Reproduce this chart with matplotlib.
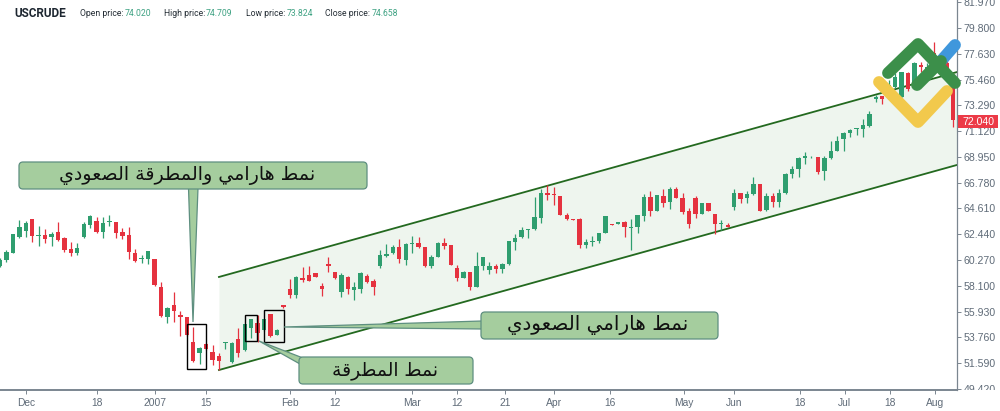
import matplotlib
matplotlib.use("Agg")
import matplotlib.pyplot as plt
from matplotlib.patches import FancyBboxPatch, Polygon, Rectangle
from matplotlib.transforms import Bbox

# candles
opens = [59.76, 60.27, 60.89, 62.18, 62.74, 63.72, 62.32, 62.36, 62.23, 62.66,
         62.12, 61.20, 60.89, 62.18, 63.22, 63.55, 62.63, 63.44, 63.47, 62.60,
         62.35, 60.86, 60.32, 60.32, 60.35, 58.02, 55.49, 56.50, 55.63, 55.44,
         53.33, 52.46, 53.16, 52.49, 52.21, 53.27, 51.70, 53.58, 52.68, 54.57,
         54.93, 54.37, 55.69, 53.95, 56.45, 57.82, 57.32, 58.72, 58.98, 59.20,
         58.08, 59.90, 59.23, 57.60, 58.80, 57.74, 57.85, 58.92, 58.50, 59.73,
         60.63, 60.88, 61.36, 60.27, 61.61, 61.70, 61.39, 59.76, 60.55, 61.70,
         61.53, 59.62, 58.78, 59.23, 58.02, 59.79, 59.42, 59.79, 59.51, 59.90,
         61.81, 62.18, 62.79, 62.85, 63.78, 65.91, 65.86, 65.66, 64.09, 63.72,
         63.72, 61.56, 61.78, 61.87, 62.54, 63.30, 63.33, 63.50, 62.93, 63.02,
         63.97, 65.55, 64.42, 65.69, 65.13, 66.22, 65.47, 64.43, 65.52, 64.14,
         65.07, 64.12, 63.30, 63.19, 64.76, 65.94, 65.47, 65.80, 66.64, 64.48,
         65.66, 65.16, 65.89, 67.52, 67.97, 68.86, 68.92, 68.95, 67.80, 68.84,
         69.48, 70.49, 71.00, 71.28, 71.28, 71.59, 73.81, 74.06, 74.17, 74.87,
         74.03, 76.05, 74.87, 76.70, 75.72, 77.74, 76.56, 76.84, 75.72]
highs = [60.40, 61.11, 62.43, 63.64, 63.58, 63.72, 63.13, 62.85, 62.66, 63.50,
         62.18, 61.81, 61.73, 63.50, 64.03, 63.92, 63.86, 64.03, 63.50, 62.94,
         63.08, 61.17, 60.69, 61.06, 60.35, 58.44, 56.28, 57.54, 56.00, 55.49,
         54.65, 52.97, 53.25, 53.10, 52.40, 53.33, 53.33, 54.51, 54.88, 55.30,
         55.63, 55.27, 55.72, 54.43, 56.45, 58.64, 58.92, 59.71, 59.79, 59.20,
         58.30, 60.55, 59.28, 59.14, 58.92, 58.44, 59.23, 59.06, 58.67, 61.11,
         61.61, 61.53, 62.01, 61.73, 62.32, 62.23, 61.39, 60.66, 61.81, 62.09,
         61.53, 59.84, 59.34, 59.28, 60.91, 60.55, 60.13, 59.93, 59.98, 61.87,
         62.43, 63.07, 62.85, 65.55, 66.22, 66.59, 66.45, 65.66, 64.25, 63.75,
         63.78, 62.01, 62.29, 62.57, 63.95, 63.33, 63.47, 63.55, 63.72, 64.06,
         65.80, 66.11, 65.71, 66.22, 66.45, 66.45, 65.94, 64.62, 65.69, 65.10,
         65.10, 64.12, 63.64, 63.36, 66.25, 65.94, 66.11, 67.23, 66.64, 65.89,
         65.94, 66.25, 67.57, 68.19, 68.98, 69.40, 69.00, 68.98, 69.03, 70.32,
         70.75, 71.03, 71.28, 71.36, 72.12, 72.82, 74.17, 74.12, 75.44, 76.00,
         76.14, 76.14, 76.98, 76.98, 76.84, 78.67, 77.68, 77.12, 76.00]
lows = [59.65, 60.13, 60.89, 62.15, 62.23, 61.81, 61.48, 61.73, 61.45, 61.87,
        60.97, 60.63, 60.69, 62.15, 62.99, 62.57, 62.15, 63.16, 62.15, 62.04,
        60.38, 60.13, 59.99, 59.93, 58.08, 55.49, 54.99, 55.07, 53.86, 53.86,
        51.70, 51.50, 52.68, 51.42, 51.00, 52.74, 51.62, 52.12, 52.63, 53.67,
        53.39, 54.31, 53.81, 53.92, 56.25, 57.04, 57.04, 58.44, 58.50, 58.84,
        57.26, 59.29, 58.69, 57.18, 57.40, 56.89, 57.46, 58.30, 57.32, 59.62,
        60.49, 60.74, 59.98, 59.84, 60.83, 61.25, 59.70, 59.56, 60.49, 61.16,
        59.82, 58.52, 58.72, 57.74, 57.99, 59.42, 59.09, 59.14, 59.20, 59.84,
        61.11, 62.09, 62.09, 62.79, 63.41, 65.32, 64.90, 64.03, 63.64, 63.64,
        61.31, 61.25, 61.45, 61.73, 62.51, 63.22, 63.30, 62.23, 61.11, 62.51,
        63.58, 64.00, 64.39, 64.71, 64.54, 65.47, 64.12, 62.94, 63.78, 64.12,
        64.40, 62.46, 62.80, 63.02, 64.48, 65.10, 65.10, 65.75, 64.40, 64.43,
        64.71, 64.76, 65.86, 67.15, 67.29, 68.33, 68.89, 67.52, 67.01, 68.78,
        69.45, 69.48, 70.61, 70.80, 70.66, 71.50, 73.55, 73.41, 74.03, 74.73,
        74.00, 74.54, 74.73, 76.14, 75.58, 77.12, 76.42, 76.00, 71.50]
closes = [60.27, 60.94, 62.43, 63.02, 63.36, 62.29, 62.36, 62.04, 62.43, 61.93,
          61.11, 60.89, 61.25, 63.27, 63.98, 62.66, 63.36, 63.58, 62.57, 62.29,
          60.97, 60.21, 60.41, 61.03, 58.16, 55.55, 56.20, 56.00, 55.49, 53.95,
          51.79, 52.88, 52.74, 51.84, 51.76, 53.33, 53.30, 52.46, 54.85, 55.27,
          54.14, 55.27, 53.89, 54.37, 56.28, 57.32, 58.86, 58.58, 58.53, 58.86,
          57.80, 59.79, 58.72, 58.97, 57.85, 57.96, 59.14, 58.41, 58.02, 60.66,
          60.77, 61.36, 60.32, 61.61, 61.73, 61.36, 59.73, 60.55, 61.73, 61.45,
          59.84, 58.72, 59.23, 57.96, 59.79, 60.49, 59.76, 59.51, 59.90, 61.84,
          62.09, 62.79, 62.85, 63.86, 65.88, 65.72, 65.74, 64.06, 63.69, 63.66,
          61.50, 61.78, 61.90, 62.51, 63.95, 63.24, 63.47, 63.02, 63.02, 64.03,
          65.60, 64.42, 65.71, 65.10, 66.22, 65.52, 64.34, 63.30, 64.12, 65.04,
          64.43, 63.30, 63.36, 63.08, 65.89, 65.44, 65.83, 66.67, 64.43, 65.66,
          65.16, 65.94, 67.52, 67.94, 68.84, 69.03, 68.98, 67.66, 68.84, 69.48,
          70.30, 70.94, 71.20, 71.36, 71.64, 72.54, 74.03, 73.86, 75.02, 75.72,
          76.08, 74.65, 76.84, 76.50, 76.56, 77.26, 77.40, 76.28, 72.04]

# tick values
x_tick_pos = [4, 15, 24, 32, 45, 52, 64, 71, 78.4, 86, 94.7, 106.2, 114, 124.2, 131.2, 138.2, 145.2]
x_tick_labels = ["Dec", "18", "2007", "15", "Feb", "12", "Mar", "12", "21", "Apr", "16",
                 "May", "Jun", "18", "Jul", "18", "Aug"]
y_ticks = [49.42, 51.59, 53.76, 55.93, 58.10, 60.27, 62.44, 64.61, 66.78, 68.95,
           71.12, 73.29, 75.46, 77.63, 79.80, 81.97]
last_price = 72.04

# channel, (candle index, price)
channel_x = [34, 148.6]
channel_top = [58.84, 76.11]
channel_bottom = [51.00, 68.28]

header = [("Open price:", "74.020", 80, 125), ("High price:", "74.709", 163.5, 206),
          ("Low price:", "73.824", 245.5, 286.7), ("Close price:", "74.658", 325, 371.7)]

GREEN = "#2f9e6f"
RED = "#e5323f"
BOX = "#a5cd9e"
BOX_EDGE = "#5e8f80"
LABEL = "#5f6b78"

# matplotlib does not join arabic letters, so pick the presentation forms here
# order in each entry: isolated, final, initial, medial
FORMS = {"ن": "\ufee5\ufee6\ufee7\ufee8", "م": "\ufee1\ufee2\ufee3\ufee4", "ط": "\ufec1\ufec2\ufec3\ufec4",
         "ه": "\ufee9\ufeea\ufeeb\ufeec", "ي": "\ufef1\ufef2\ufef3\ufef4", "ل": "\ufedd\ufede\ufedf\ufee0",
         "ق": "\ufed5\ufed6\ufed7\ufed8", "ص": "\ufeb9\ufeba\ufebb\ufebc", "ع": "\ufec9\ufeca\ufecb\ufecc",
         "ا": "\ufe8d\ufe8e", "ر": "\ufead\ufeae", "و": "\ufeed\ufeee", "ة": "\ufe93\ufe94", "د": "\ufea9\ufeaa"}


def shape(text):
    out = []
    for k, ch in enumerate(text):
        if ch not in FORMS:
            out.append(ch)
            continue
        prev = text[k - 1] if k > 0 else " "
        nxt = text[k + 1] if k + 1 < len(text) else " "
        joins_prev = prev in FORMS and len(FORMS[prev]) == 4
        joins_next = nxt in FORMS and len(FORMS[ch]) == 4
        out.append(FORMS[ch][(2 if joins_next else 0) + (1 if joins_prev else 0)])
    return "".join(reversed(out))


fig = plt.figure(figsize=(10, 4.11), dpi=100)
ax = fig.add_axes([0, 21 / 411, 0.957, 390 / 411])

# channel behind the candles
ax.fill_between(channel_x, channel_bottom, channel_top, color="#eef5ee", lw=0, zorder=1)
ax.plot(channel_x, channel_top, color="#23691f", lw=1.3, zorder=2)
ax.plot(channel_x, channel_bottom, color="#23691f", lw=1.3, zorder=2)

for i in range(len(opens)):
    col = GREEN if closes[i] >= opens[i] else RED
    ax.vlines(i, lows[i], highs[i], color=col, lw=0.9, zorder=3)
    ax.bar(i, abs(closes[i] - opens[i]), bottom=min(opens[i], closes[i]), width=0.68, color=col, lw=0, zorder=4)

ax.set_xlim(0, 957 / 6.44)
ax.set_ylim(49.315, 82.18)
ax.set_xticks(x_tick_pos)
ax.set_xticklabels(x_tick_labels, fontsize=7.4, color=LABEL, family="Liberation Sans")
ax.yaxis.tick_right()
ax.set_yticks(y_ticks)
ax.set_yticklabels(["%.3f" % v for v in y_ticks], fontsize=7.6, color=LABEL, family="Liberation Sans")
ax.tick_params(axis="x", length=3, width=0.7, color="#7b8690", pad=3)
ax.tick_params(axis="y", length=3, width=0.7, color="#7b8690", pad=2)
# the lowest price label is cut by the time axis
for lab in ax.get_yticklabels():
    lab.set_clip_on(True)
    lab.set_clip_box(Bbox.from_extents(950, 21, 1000, 411))
for s in ["top", "left"]:
    ax.spines[s].set_visible(False)
ax.spines["bottom"].set_color("#7b8690")
ax.spines["bottom"].set_linewidth(1.4)
ax.spines["right"].set_color("#7b8690")
ax.spines["right"].set_linewidth(0.9)

# overlay in pixels for the notes and the logo
ov = fig.add_axes([0, 0, 1, 1], facecolor="none")
ov.set_xlim(0, 1000)
ov.set_ylim(411, 0)
ov.axis("off")

for x0, y0, x1, y1 in [(186.7, 324.3, 206.3, 369.3), (244.7, 315, 257.3, 341), (264, 310.3, 283.7, 342.3)]:
    ov.add_patch(Rectangle((x0, y0), x1 - x0, y1 - y0, fill=False, ec="black", lw=1.0, zorder=5))


def callout(x0, y0, x1, y1, pointer, text, size, text_x):
    ov.add_patch(Polygon(pointer, closed=True, fc=BOX, ec=BOX_EDGE, lw=0.9, zorder=6))
    ov.add_patch(FancyBboxPatch((x0 + 3, y0 + 3), x1 - x0 - 6, y1 - y0 - 6, boxstyle="round,pad=3,rounding_size=4",
                                fc=BOX, ec=BOX_EDGE, lw=0.9, zorder=7))
    ov.text(text_x, (y0 + y1) / 2 - 0.5, shape(text), ha="center", va="center", fontsize=size,
            color="#111111", family="DejaVu Sans", zorder=8)


callout(19, 162, 367, 189, [(188.5, 188), (198, 188), (193, 322)], "نمط هارامي والمطرقة الصعودي", 13.7, 187.5)
callout(481, 312, 718, 339, [(482, 321), (482, 329), (284, 327)], "نمط هارامي الصعودي", 14.3, 598)
callout(299, 357, 473, 384, [(303, 358), (300, 364), (259, 341)], "نمط المطرقة", 13.4, 384.5)

# logo
ov.plot([941, 955], [61, 45], color="#3f97dc", lw=8.5, solid_capstyle="round", zorder=9)
ov.plot([879, 918, 947], [82, 122, 91], color="#f2c94c", lw=8.5, solid_capstyle="round",
        solid_joinstyle="round", zorder=9)
ov.plot([888, 918, 955], [73, 44, 83], color="#3c8f4a", lw=8.5, solid_capstyle="round",
        solid_joinstyle="round", zorder=10)
ov.plot([917, 941], [85, 61], color="#3c8f4a", lw=8.5, solid_capstyle="round", zorder=10)

# last price tag
ov.add_patch(Rectangle((958, 115), 40, 13, fc="#ec3a47", ec="none", zorder=11))
ov.text(978, 121.5, "%.3f" % last_price, ha="center", va="center", fontsize=7.6, color="white",
        family="Liberation Sans", zorder=12)

# header
ov.text(14, 13.5, "USCRUDE", ha="left", va="center", fontsize=8.5, fontweight="bold", color="#1d2630", family="Roboto")
for name, val, xn, xv in header:
    ov.text(xn, 13.5, name, ha="left", va="center", fontsize=6.2, color="#222b33", family="Roboto")
    ov.text(xv, 13.5, val, ha="left", va="center", fontsize=6.2, color="#3fa283", family="Roboto")

fig.savefig("out.png", dpi=100)
